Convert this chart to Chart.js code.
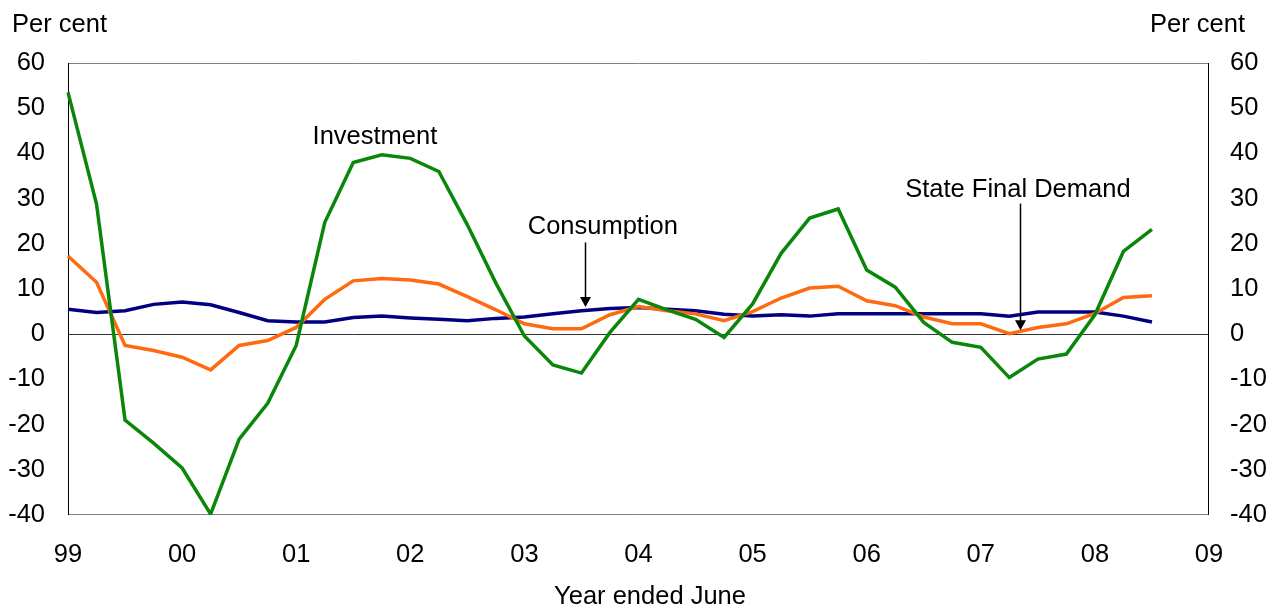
<!DOCTYPE html>
<html>
<head>
<meta charset="utf-8">
<script src="https://cdn.jsdelivr.net/npm/chart.js@4.4.1/dist/chart.umd.min.js"></script>
<style>
    html, body { margin: 0; padding: 0; background: #fff; }
    #wrap { width: 1269px; height: 608px; position: relative; }
</style>
</head>
<body>
<div id="wrap"><canvas id="chart"></canvas></div>
<script>
// quarterly, year ended June (axis runs Jun-99 .. Jun-09)
var quarters = [
    'Jun-99', 'Sep-99', 'Dec-99', 'Mar-00', 'Jun-00', 'Sep-00', 'Dec-00', 'Mar-01',
    'Jun-01', 'Sep-01', 'Dec-01', 'Mar-02', 'Jun-02', 'Sep-02', 'Dec-02', 'Mar-03',
    'Jun-03', 'Sep-03', 'Dec-03', 'Mar-04', 'Jun-04', 'Sep-04', 'Dec-04', 'Mar-05',
    'Jun-05', 'Sep-05', 'Dec-05', 'Mar-06', 'Jun-06', 'Sep-06', 'Dec-06', 'Mar-07',
    'Jun-07', 'Sep-07', 'Dec-07', 'Mar-08', 'Jun-08', 'Sep-08', 'Dec-08', 'Mar-09',
    'Jun-09'
];

var investment = [
    53.5, 28.8, -19.0, -24.1, -29.6, -39.8, -23.2, -15.3,
    -2.5, 24.7, 38.0, 39.7, 38.9, 36.0, 24.2, 11.3,
    -0.4, -6.8, -8.6, 0.4, 7.7, 5.4, 3.3, -0.7,
    6.7, 17.9, 25.7, 27.7, 14.2, 10.4, 2.6, -1.8,
    -2.9, -9.6, -5.5, -4.4, 4.3, 18.3, 23.2
];

var stateFinalDemand = [
    17.3, 11.5, -2.5, -3.6, -5.1, -7.9, -2.5, -1.4,
    1.5, 7.7, 11.8, 12.3, 12.0, 11.1, 8.3, 5.4,
    2.3, 1.2, 1.2, 4.3, 6.1, 5.2, 4.5, 3.0,
    5.0, 8.0, 10.2, 10.6, 7.4, 6.3, 3.8, 2.3,
    2.3, 0.1, 1.5, 2.3, 4.6, 8.1, 8.5
];

var consumption = [
    5.5, 4.8, 5.2, 6.6, 7.1, 6.5, 4.8, 3.0,
    2.7, 2.7, 3.7, 4.0, 3.6, 3.3, 3.0, 3.5,
    3.8, 4.5, 5.2, 5.7, 5.9, 5.5, 5.2, 4.4,
    4.0, 4.3, 4.0, 4.5, 4.5, 4.5, 4.5, 4.5,
    4.5, 4.0, 4.9, 4.9, 4.9, 4.0, 2.7
];

var yMin = -40, yMax = 60, yStep = 10;

// labels on the chart, placed in data space (category index, value)
var notes = [
    { text: 'Investment', x: 10.76, y: 43.6 },
    { text: 'Consumption', x: 18.75, y: 23.8, arrowX: 18.12, arrowFrom: 20.3, arrowTo: 6.0 },
    { text: 'State Final Demand', x: 33.3, y: 31.9, arrowX: 33.37, arrowFrom: 28.9, arrowTo: 0.9 }
];

var FONT = '"Liberation Sans", Arial, sans-serif';
var FSIZE = 25.5;

var framePlugin = {
    id: 'frame',
    beforeDatasetsDraw: function (chart) {
        var a = chart.chartArea, c = chart.ctx, y = chart.scales.y;
        c.save();
        c.lineWidth = 1;
        c.strokeStyle = '#808080';
        c.beginPath();
        c.moveTo(a.left, a.top + 0.5); c.lineTo(a.right, a.top + 0.5);
        c.moveTo(a.left, a.bottom - 0.5); c.lineTo(a.right, a.bottom - 0.5);
        c.stroke();
        var zy = Math.round(y.getPixelForValue(0)) + 0.5;
        c.strokeStyle = '#333';
        c.beginPath();
        c.moveTo(a.left, zy); c.lineTo(a.right, zy);
        c.stroke();
        c.strokeStyle = '#000';
        c.beginPath();
        c.moveTo(a.left + 0.5, a.top); c.lineTo(a.left + 0.5, a.bottom);
        c.moveTo(a.right - 0.5, a.top); c.lineTo(a.right - 0.5, a.bottom);
        c.stroke();
        c.restore();
    },
    afterDraw: function (chart) {
        var c = chart.ctx, x = chart.scales.x, y = chart.scales.y;
        c.save();
        c.fillStyle = '#000';
        c.font = FSIZE + 'px ' + FONT;
        c.textBaseline = 'alphabetic';
        c.textAlign = 'left';
        c.fillText('Per cent', 12, 32);
        c.textAlign = 'right';
        c.fillText('Per cent', 1245, 32);
        c.textAlign = 'center';
        c.fillText('Year ended June', 650, 604);

        c.textBaseline = 'middle';
        notes.forEach(function (n) {
            c.fillText(n.text, x.getPixelForValue(n.x), y.getPixelForValue(n.y));
            if (n.arrowX !== undefined) {
                var ax = Math.round(x.getPixelForValue(n.arrowX)) + 0.5;
                var y0 = y.getPixelForValue(n.arrowFrom);
                var y1 = y.getPixelForValue(n.arrowTo);
                c.strokeStyle = '#000';
                c.lineWidth = 1.5;
                c.beginPath();
                c.moveTo(ax, y0); c.lineTo(ax, y1 - 8);
                c.stroke();
                c.beginPath();
                c.moveTo(ax - 5.5, y1 - 10); c.lineTo(ax + 5.5, y1 - 10); c.lineTo(ax, y1);
                c.closePath();
                c.fill();
            }
        });
        c.restore();
    }
};

function makeLine(label, data, color) {
    return {
        label: label,
        data: data,
        borderColor: color,
        backgroundColor: color,
        borderWidth: 3.5,
        pointRadius: 0,
        tension: 0,
        fill: false
    };
}

var ctx = document.getElementById('chart');
var myChart = new Chart(ctx, {
    type: 'line',
    data: {
        labels: quarters,
        datasets: [
            makeLine('Investment', investment, '#0A870A'),
            makeLine('State Final Demand', stateFinalDemand, '#FF6A10'),
            makeLine('Consumption', consumption, '#000080')
        ]
    },
    options: {
        responsive: true,
        maintainAspectRatio: false,
        animation: false,
        layout: { padding: { top: 63, left: 0, right: 0, bottom: 0 } },
        plugins: {
            legend: { display: false },
            tooltip: { enabled: false }
        },
        scales: {
            x: {
                type: 'category',
                offset: false,
                grid: { display: false, drawTicks: false },
                border: { display: false },
                afterFit: function (scale) { scale.height = 93; },
                ticks: {
                    autoSkip: false,
                    maxRotation: 0,
                    padding: 25,
                    color: '#000',
                    font: { family: FONT, size: FSIZE },
                    callback: function (value) {
                        var q = this.getLabelForValue(value);
                        return q.indexOf('Jun') === 0 ? q.slice(4) : '';
                    }
                }
            },
            y: {
                position: 'left',
                min: yMin,
                max: yMax,
                grid: { display: false, drawTicks: false },
                border: { display: false },
                afterFit: function (scale) { scale.width = 68; },
                ticks: {
                    stepSize: yStep,
                    padding: 23,
                    color: '#000',
                    font: { family: FONT, size: FSIZE }
                }
            },
            y2: {
                position: 'right',
                min: yMin,
                max: yMax,
                grid: { display: false, drawTicks: false },
                border: { display: false },
                afterFit: function (scale) { scale.width = 60; },
                ticks: {
                    stepSize: yStep,
                    padding: 21,
                    color: '#000',
                    font: { family: FONT, size: FSIZE }
                }
            }
        }
    },
    plugins: [framePlugin]
});
</script>
</body>
</html>
